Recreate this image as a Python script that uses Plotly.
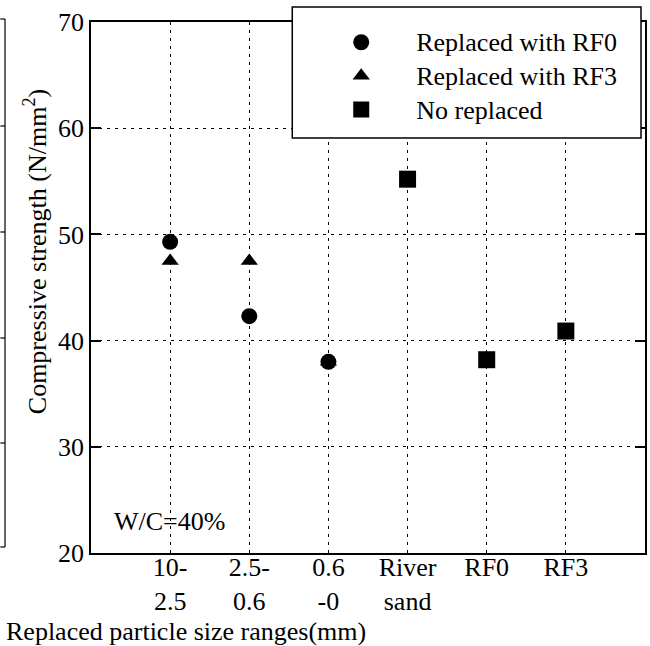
import plotly.graph_objects as go

# ---- data ----
categories = ["10-<br>2.5", "2.5-<br>0.6", "0.6<br>-0", "River<br>sand", "RF0", "RF3"]
cat_pos = [1, 2, 3, 4, 5, 6]

rf0_x = [1, 2, 3]
rf0_y = [49.3, 42.3, 38.0]

rf3_x = [1, 2, 3]
rf3_y = [47.5, 47.5, 38.0]

noreplace_x = [4, 5, 6]
noreplace_y = [55.2, 38.2, 40.9]

y_ticks = [20, 30, 40, 50, 60, 70]

legend_names = ["Replaced with RF0", "Replaced with RF3", "No replaced"]

FONT = "Liberation Serif"


def big(s):
    return '<span style="font-size:26px">' + s + "</span>"


fig = go.Figure()

fig.add_trace(go.Scatter(
    x=rf3_x, y=rf3_y, mode="markers", name=big(legend_names[1]),
    marker=dict(symbol="triangle-up", size=15, color="black"), legendrank=2,
))
fig.add_trace(go.Scatter(
    x=rf0_x, y=rf0_y, mode="markers", name=big(legend_names[0]),
    marker=dict(symbol="circle", size=16, color="black"), legendrank=1,
))
fig.add_trace(go.Scatter(
    x=noreplace_x, y=noreplace_y, mode="markers", name=big(legend_names[2]),
    marker=dict(symbol="square", size=17, color="black"), legendrank=3,
))

# legend frame (white box over the gridlines)
fig.add_shape(type="rect", xref="paper", yref="paper", layer="above",
              x0=(293 - 91) / 556, x1=(643 - 91) / 556,
              y0=(553 - 138) / 531, y1=(553 - 7) / 531,
              line=dict(color="black", width=1.5), fillcolor="white")

# leftover axis fragment of neighbouring chart at the left edge
frag_x = (4.7 - 91) / 556
fig.add_shape(type="line", xref="paper", yref="paper",
              x0=frag_x, x1=frag_x, y0=(553 - 547) / 531, y1=(553 - 19) / 531,
              line=dict(color="black", width=1.2))
for py in [19, 126, 232, 338, 443, 547]:
    fig.add_shape(type="line", xref="paper", yref="paper",
                  x0=-91 / 556, x1=frag_x, y0=(553 - py) / 531, y1=(553 - py) / 531,
                  line=dict(color="black", width=1.2))

fig.add_annotation(text="W/C=40%", x=0.27, y=22.95, xref="x", yref="y",
                   xanchor="left", yanchor="middle", showarrow=False,
                   font=dict(family=FONT, size=26, color="black"))
fig.add_annotation(text="Replaced particle size ranges(mm)",
                   x=(4 - 91) / 556, y=(553 - 631) / 531, xref="paper", yref="paper",
                   xanchor="left", yanchor="middle", showarrow=False,
                   font=dict(family=FONT, size=26, color="black"))
fig.add_annotation(text="Compressive strength (N/mm<sup>2</sup>)",
                   x=(36 - 91) / 556, y=(553 - 252) / 531, xref="paper", yref="paper",
                   xanchor="center", yanchor="middle", textangle=-90, showarrow=False,
                   font=dict(family=FONT, size=26, color="black"))

fig.update_layout(
    width=650, height=646,
    margin=dict(l=91, r=3, t=22, b=93),
    paper_bgcolor="white", plot_bgcolor="white",
    font=dict(family=FONT, size=26, color="black"),
    showlegend=True,
    legend=dict(
        x=(307 - 91) / 556, y=(553 - 20.5) / 531, xanchor="left", yanchor="top",
        bgcolor="rgba(0,0,0,0)", borderwidth=0,
        font=dict(family=FONT, size=23.5, color="black"),
        tracegroupgap=0, itemwidth=100,
    ),
    xaxis=dict(
        range=[0, 7], tickvals=cat_pos, ticktext=categories,
        showline=True, linecolor="black", linewidth=1.5, mirror=True,
        showgrid=True, gridcolor="black", gridwidth=1, griddash="3px,5px",
        ticks="", zeroline=False, ticklabelstandoff=-10,
    ),
    yaxis=dict(
        range=[20, 70], tickvals=y_ticks,
        showline=True, linecolor="black", linewidth=1.5, mirror="ticks",
        showgrid=True, gridcolor="black", gridwidth=1, griddash="3px,5px",
        ticks="inside", ticklen=10, tickcolor="black", tickwidth=1.5,
        zeroline=False,
    ),
)

fig.write_html("out.html")
